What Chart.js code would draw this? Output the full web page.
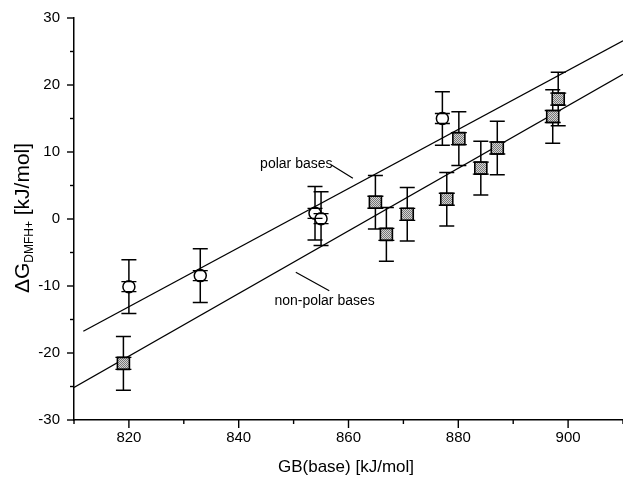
<!DOCTYPE html>
<html>
<head>
<meta charset="utf-8">
<script src="https://cdn.jsdelivr.net/npm/chart.js@4.4.1/dist/chart.umd.min.js"></script>
<style>
  html, body { margin: 0; padding: 0; background: #fff; }
  canvas { display: block; }
</style>
</head>
<body>
<canvas id="c" width="623" height="480"></canvas>
<script>
// ---- data ----
const xTickLabels = [820, 840, 860, 880, 900];
const yTickLabels = [-30, -20, -10, 0, 10, 20, 30];

const polarX   = [820.0, 833.0, 853.9, 855.0, 877.1];
const polarY   = [-10.1, -8.45, 0.85, 0.05, 15.0];
const polarErr = [4, 4, 4, 4, 4];

const nonPolarX   = [819.0, 864.9, 866.9, 870.7, 877.9, 880.1, 884.1, 887.1, 897.2, 898.2];
const nonPolarY   = [-21.55, 2.5, -2.3, 0.7, 2.95, 12.0, 7.6, 10.6, 15.3, 17.9];
const nonPolarErr = [4, 4, 4, 4, 4, 4, 4, 4, 4, 4];

const polarFitX = [811.7, 910];
const polarFitY = [-16.75, 26.6];
const nonPolarFitX = [810, 910];
const nonPolarFitY = [-25.15, 21.6];

const FONT = "'Liberation Sans', Arial, Helvetica, sans-serif";

const zip = (xs, ys) => xs.map((v, i) => ({ x: v, y: ys[i] }));

const canvas = document.getElementById('c');
const ctx = canvas.getContext('2d');

// dotted grey fill like the scanned markers
const pc = document.createElement('canvas');
pc.width = 2; pc.height = 2;
const pctx = pc.getContext('2d');
pctx.fillStyle = '#d4d4d4'; pctx.fillRect(0, 0, 2, 2);
pctx.fillStyle = '#777777'; pctx.fillRect(0, 0, 1, 1); pctx.fillRect(1, 1, 1, 1);
const greyPattern = ctx.createPattern(pc, 'repeat');

const errorBarPlugin = {
  id: 'errorBars',
  beforeDatasetsDraw(chart) {
    const { ctx, scales: { x, y } } = chart;
    ctx.save();
    ctx.strokeStyle = '#000';
    ctx.lineWidth = 1.5;
    const draw = (xs, ys, es) => {
      xs.forEach((xv, i) => {
        const px = x.getPixelForValue(xv);
        const pt = y.getPixelForValue(ys[i] + es[i]);
        const pb = y.getPixelForValue(ys[i] - es[i]);
        ctx.beginPath();
        ctx.moveTo(px, pt); ctx.lineTo(px, pb);
        ctx.moveTo(px - 7.5, pt); ctx.lineTo(px + 7.5, pt);
        ctx.moveTo(px - 7.5, pb); ctx.lineTo(px + 7.5, pb);
        ctx.stroke();
      });
    };
    draw(polarX, polarY, polarErr);
    draw(nonPolarX, nonPolarY, nonPolarErr);
    ctx.restore();
  },
  afterDatasetsDraw(chart) {
    const { ctx, scales: { x, y } } = chart;
    ctx.save();
    ctx.strokeStyle = '#000';
    ctx.lineWidth = 1.3;
    const bars = (xs, ys, half, w) => {
      xs.forEach((xv, i) => {
        const px = x.getPixelForValue(xv);
        const py = y.getPixelForValue(ys[i]);
        ctx.beginPath();
        ctx.moveTo(px - w, py - half); ctx.lineTo(px + w, py - half);
        ctx.moveTo(px - w, py + half); ctx.lineTo(px + w, py + half);
        ctx.stroke();
      });
    };
    bars(polarX, polarY, 5, 7.5);
    bars(nonPolarX, nonPolarY, 6, 8);
    ctx.restore();
  }
};

const axisDecor = {
  id: 'axisDecor',
  afterDraw(chart) {
    const { ctx, scales: { x, y }, chartArea } = chart;
    ctx.save();
    ctx.strokeStyle = '#000';
    ctx.lineWidth = 1.4;
    // x ticks (outward, below)
    x.ticks.forEach(t => {
      const px = x.getPixelForValue(t.value);
      const len = (t.value % 20 === 0) ? 8 : 4;
      ctx.beginPath();
      ctx.moveTo(px, chartArea.bottom);
      ctx.lineTo(px, chartArea.bottom + len);
      ctx.stroke();
    });
    // y ticks (outward, left)
    y.ticks.forEach(t => {
      const py = y.getPixelForValue(t.value);
      const len = (t.value % 10 === 0) ? 7 : 4;
      ctx.beginPath();
      ctx.moveTo(chartArea.left, py);
      ctx.lineTo(chartArea.left - len, py);
      ctx.stroke();
    });

    // axis titles
    ctx.fillStyle = '#000';
    ctx.textBaseline = 'middle';
    ctx.textAlign = 'center';
    ctx.font = `17px ${FONT}`;
    ctx.fillText('GB(base) [kJ/mol]', 346, 467);

    // y title with subscript, rotated
    ctx.save();
    ctx.translate(22, 218);
    ctx.rotate(-Math.PI / 2);
    ctx.textAlign = 'left';
    ctx.textBaseline = 'alphabetic';
    const big = `21px ${FONT}`, small = `12px ${FONT}`;
    const p1 = '\u0394G', p2 = 'DMFH+', p3 = ' [kJ/mol]';
    ctx.font = big; const w1 = ctx.measureText(p1).width; const w3 = ctx.measureText(p3).width;
    ctx.font = small; const w2 = ctx.measureText(p2).width;
    let sx = -(w1 + w2 + w3) / 2;
    const base = 7;
    ctx.font = big; ctx.fillText(p1, sx, base); sx += w1;
    ctx.font = small; ctx.fillText(p2, sx, base + 4); sx += w2;
    ctx.font = big; ctx.fillText(p3, sx, base);
    ctx.restore();

    // annotations with leader lines
    ctx.font = `14px ${FONT}`;
    ctx.textAlign = 'left';
    ctx.textBaseline = 'middle';
    ctx.fillText('polar bases', x.getPixelForValue(843.9), y.getPixelForValue(8.2));
    ctx.fillText('non-polar bases', x.getPixelForValue(846.5), y.getPixelForValue(-12.2));
    ctx.lineWidth = 1.2;
    ctx.beginPath();
    ctx.moveTo(x.getPixelForValue(856.9), y.getPixelForValue(8.06));
    ctx.lineTo(x.getPixelForValue(860.8), y.getPixelForValue(6.07));
    ctx.moveTo(x.getPixelForValue(850.4), y.getPixelForValue(-7.96));
    ctx.lineTo(x.getPixelForValue(856.5), y.getPixelForValue(-10.7));
    ctx.stroke();
    ctx.restore();
  }
};

new Chart(ctx, {
  type: 'scatter',
  data: {
    datasets: [
      {
        type: 'line', data: zip(polarFitX, polarFitY),
        borderColor: '#000', borderWidth: 1.3, pointRadius: 0, fill: false, order: 3
      },
      {
        type: 'line', data: zip(nonPolarFitX, nonPolarFitY),
        borderColor: '#000', borderWidth: 1.3, pointRadius: 0, fill: false, order: 3
      },
      {
        label: 'polar bases', data: zip(polarX, polarY),
        pointStyle: 'circle', pointRadius: 6,
        pointBackgroundColor: '#fff', pointBorderColor: '#000', pointBorderWidth: 1.5, order: 1
      },
      {
        label: 'non-polar bases', data: zip(nonPolarX, nonPolarY),
        pointStyle: 'rect', pointRadius: 8.5,
        pointBackgroundColor: greyPattern, pointBorderColor: '#000', pointBorderWidth: 1.6, order: 1
      }
    ]
  },
  options: {
    responsive: false,
    animation: false,
    layout: { autoPadding: false, padding: { top: 18, right: 0, left: 0, bottom: 0 } },
    plugins: { legend: { display: false }, tooltip: { enabled: false } },
    scales: {
      x: {
        type: 'linear', min: 810, max: 910,
        ticks: {
          stepSize: 10, autoSkip: false, maxRotation: 0, padding: 9,
          color: '#000', font: { size: 15, family: FONT },
          callback: v => (xTickLabels.includes(v) ? String(v) : '')
        },
        grid: { display: true, drawOnChartArea: false, drawTicks: false },
        border: { display: true, color: '#000', width: 1.5 },
        afterFit(s) { s.height = 60; s.paddingRight = 0; s.paddingLeft = 0; }
      },
      y: {
        type: 'linear', min: -30, max: 30,
        ticks: {
          stepSize: 5, autoSkip: false, padding: 14,
          color: '#000', font: { size: 15, family: FONT },
          callback: v => (yTickLabels.includes(v) ? String(v) : '')
        },
        grid: { display: true, drawOnChartArea: false, drawTicks: false },
        border: { display: true, color: '#000', width: 1.5 },
        afterFit(s) { s.width = 74; s.paddingTop = 0; s.paddingBottom = 0; }
      }
    }
  },
  plugins: [errorBarPlugin, axisDecor]
});
</script>
</body>
</html>
